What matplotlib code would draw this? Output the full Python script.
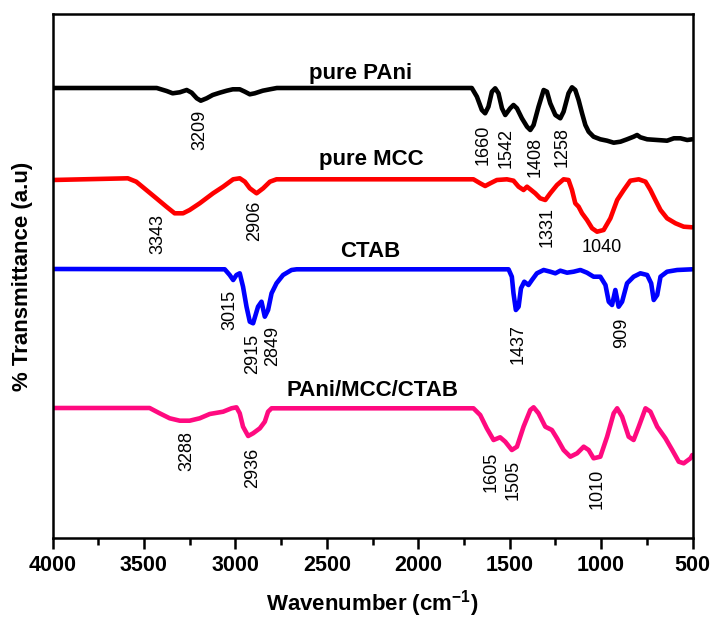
import matplotlib
matplotlib.use("Agg")
import matplotlib.pyplot as plt
from matplotlib.ticker import MultipleLocator

plt.rcParams['font.family'] = ['Liberation Sans', 'DejaVu Sans']
plt.rcParams['mathtext.fontset'] = 'custom'
plt.rcParams['mathtext.rm'] = 'Liberation Sans:bold'
plt.rcParams['mathtext.bf'] = 'Liberation Sans:bold'

# ---- data (wavenumber cm-1, transmittance a.u. with vertical offsets) ----
pani_wn = [4000, 3430, 3376, 3343, 3304, 3266, 3239, 3211, 3189, 3157, 3124, 3085, 3047, 3014,
           2976, 2948, 2921, 2894, 2850, 2811, 2773, 1707, 1679, 1652, 1634, 1616, 1597, 1579,
           1561, 1542, 1524, 1497, 1479, 1460, 1433, 1405, 1387, 1369, 1342, 1314, 1296, 1278,
           1250, 1223, 1205, 1178, 1159, 1141, 1123, 1104, 1086, 1068, 1041, 1004, 967, 931,
           894, 858, 822, 803, 785, 748, 693, 639, 602, 566, 529, 502]
pani_t = [450, 450, 447, 444.7, 445.7, 448, 445.3, 439.7, 437.3, 439.7, 443, 445.3, 447.3, 448.7,
          448.7, 446.3, 443.7, 444.7, 447.3, 448.7, 450, 450, 441.3, 428, 424.7, 431.3, 446.3, 449.7,
          444.7, 429.7, 423, 429.7, 433, 429.7, 419.7, 411.3, 408, 413, 431.3, 448, 446.3, 434.7,
          423, 419.7, 426.3, 444.7, 450.7, 448, 438, 424.7, 413, 406.3, 401.3, 398.7, 397.3, 395.3,
          396.3, 398.7, 401.3, 403, 400.7, 398.7, 398, 397.3, 399.7, 399.7, 398, 398.7]

mcc_wn = [4000, 3588, 3542, 3487, 3432, 3377, 3332, 3286, 3250, 3195, 3122, 3067, 3012, 2976,
          2948, 2921, 2884, 2848, 2811, 2775, 1698, 1661, 1634, 1606, 1570, 1515, 1479, 1451,
          1424, 1405, 1387, 1360, 1333, 1305, 1278, 1241, 1205, 1178, 1159, 1141, 1123, 1104,
          1077, 1049, 1022, 986, 949, 912, 876, 840, 794, 757, 730, 703, 675, 639, 593, 548, 502]
mcc_t = [358, 359.7, 356.3, 348, 339.7, 331.3, 324.7, 324.7, 328, 334.7, 344.7, 351.3, 358.7, 359.7,
         356.3, 349.7, 344.7, 349.7, 356.3, 358.7, 358.7, 354.7, 352, 354.7, 358, 358.7, 357.3, 351.3,
         348, 351.3, 348.7, 344.7, 339.7, 338, 344.7, 353, 358.7, 358, 348, 334.7, 331.3, 324.7,
         318, 309.7, 306.3, 308, 319.7, 338, 348, 357.3, 358.7, 356.3, 348, 338, 328, 319.7, 314.7,
         311.3, 310.7]

ctab_wn = [4000, 3058, 3031, 3012, 2994, 2976, 2958, 2939, 2921, 2903, 2876, 2857, 2839, 2821,
           2802, 2775, 2739, 2693, 2665, 1506, 1488, 1479, 1466, 1451, 1438, 1420, 1397, 1378,
           1351, 1314, 1278, 1250, 1223, 1186, 1150, 1113, 1077, 1041, 1004, 976, 958, 940, 922,
           904, 885, 858, 822, 785, 748, 726, 712, 693, 675, 639, 584, 502]
ctab_t = [269, 268.7, 263, 258, 263, 264.7, 251.3, 231.3, 216.3, 214.7, 231.3, 236.3, 221.3, 228,
          244.7, 254.7, 263, 268, 268.7, 268.7, 261.3, 244.7, 228, 231.3, 249.7, 256.3, 253, 258,
          264.7, 268, 266.3, 264.7, 267.3, 265.3, 266.3, 268, 265.3, 261.3, 261.3, 253, 236.3, 233, 248,
          231.3, 236.3, 254.7, 261.3, 264.7, 263, 254.7, 238, 243, 261.3, 266.3, 268, 268.7]

comp_wn = [4000, 3469, 3414, 3359, 3304, 3250, 3195, 3140, 3067, 3021, 2994, 2976, 2958, 2930,
           2903, 2866, 2839, 2821, 2802, 1698, 1661, 1625, 1588, 1552, 1524, 1488, 1460, 1424,
           1387, 1369, 1342, 1305, 1269, 1241, 1205, 1168, 1131, 1095, 1068, 1041, 1004, 967, 931,
           912, 885, 849, 822, 794, 757, 730, 693, 648, 611, 575, 548, 511, 501]
comp_t = [130, 130, 124.7, 119.7, 117.3, 117.3, 119.7, 124, 126.3, 129.7, 130.7, 124.7, 111.3, 102,
          104.7, 109.7, 116.3, 126.3, 129.7, 129.7, 123, 109.7, 98, 100.7, 96.3, 88, 91.3, 111.3,
          128, 130.7, 124.7, 111.3, 108, 99.7, 88, 81.3, 84.7, 91.3, 88, 79.7, 81.3, 101.3, 124.7,
          129.7, 121.3, 101.3, 98, 111.3, 129.7, 126.3, 111.3, 99.7, 88, 76.3, 74.7, 79.7, 83]

series_names = ['pure PAni', 'pure MCC', 'CTAB', 'PAni/MCC/CTAB']
series_colors = ['#000000', '#ff0000', '#0000ff', '#ff0a80']
name_pos_wn = [2318, 2256, 2264, 2250]
name_pos_t = [464, 378, 286, 148]

peak_labels = ['3209', '3343', '2906', '3015', '2915', '2849', '1660', '1542', '1408', '1258',
               '1331', '1040', '1437', '909', '3288', '2936', '1605', '1505', '1010']
peak_wn = [3195, 3423, 2894, 3031, 2906, 2797, 1643, 1519, 1360, 1214,
           1296, 999, 1451, 885, 3268, 2906, 1601, 1479, 1022]
peak_t = [408, 304, 317, 228, 184, 192, 393, 390, 381, 391,
          311, 290, 194, 205, 87, 70, 66, 58, 49]
peak_rot = [90, 90, 90, 90, 90, 90, 90, 90, 90, 90,
            90, 0, 90, 90, 90, 90, 90, 90, 90]

xticks = [4000, 3500, 3000, 2500, 2000, 1500, 1000, 500]

# ---- plot ----
fig = plt.figure(figsize=(7.13, 6.2), dpi=100)
ax = fig.add_axes([52.5 / 713, 82 / 620, 640 / 713, 524 / 620])

for wn, t, c in zip([pani_wn, mcc_wn, ctab_wn, comp_wn], [pani_t, mcc_t, ctab_t, comp_t], series_colors):
    ax.plot(wn, t, color=c, lw=3.3, solid_joinstyle='round', solid_capstyle='round')

for name, x, y in zip(series_names, name_pos_wn, name_pos_t):
    ax.text(x, y, name, fontsize=16, fontweight='bold', ha='center', va='center')

for lab, x, y, r in zip(peak_labels, peak_wn, peak_t, peak_rot):
    ax.text(x, y, lab, fontsize=13, rotation=r, ha='center', va='center')

ax.set_xlim(4000, 500)
ax.set_ylim(0, 524)
ax.set_xticks(xticks)
ax.set_xticklabels([str(v) for v in xticks])
ax.xaxis.set_minor_locator(MultipleLocator(250))
ax.set_yticks([])
ax.tick_params(axis='x', which='major', direction='out', length=8, width=1.8, pad=4,
               labelsize=15.5)
ax.tick_params(axis='x', which='minor', direction='out', length=5, width=1.8)
for lbl in ax.get_xticklabels():
    lbl.set_fontweight('bold')
for s in ax.spines.values():
    s.set_linewidth(1.8)

ax.set_xlabel(r'Wavenumber (cm$^{-1}$)', fontsize=16, fontweight='bold')
ax.xaxis.set_label_coords(0.5, -0.095)
ax.set_ylabel('% Transmittance (a.u)', fontsize=16, fontweight='bold')
ax.yaxis.set_label_coords(-0.031, 0.5)

fig.savefig('out.png', dpi=100)
